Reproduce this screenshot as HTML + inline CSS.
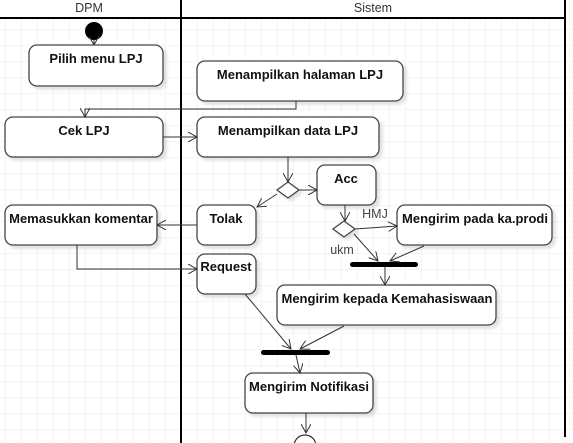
<!DOCTYPE html>
<html><head><style>
html,body{margin:0;padding:0;background:#fff;}
svg{display:block;}
text{font-family:"Liberation Sans",Arial,sans-serif;}
.b{font-weight:bold;font-size:13px;fill:#111;}
</style></head><body>
<svg width="573" height="443" viewBox="0 0 573 443" xmlns="http://www.w3.org/2000/svg">
<defs>
<pattern id="g" x="6" y="14" width="16" height="16" patternUnits="userSpaceOnUse">
<path d="M16 0V16M0 16H16" stroke="#ebebeb" stroke-width="1" fill="none"/>
</pattern>
<marker id="a" markerWidth="10" markerHeight="10" refX="9" refY="5" orient="auto" markerUnits="userSpaceOnUse">
<path d="M0 0L9 5L0 10" fill="none" stroke="#333" stroke-width="1"/>
</marker>
<filter id="s" x="-10%" y="-10%" width="130%" height="140%"><feDropShadow dx="3" dy="3" stdDeviation="1.5" flood-color="#000" flood-opacity="0.12"/></filter>
</defs>
<rect width="573" height="443" fill="#fff"/>
<rect x="0" y="18" width="573" height="425" fill="url(#g)"/>
<line x1="0" y1="18" x2="565" y2="18" stroke="#000" stroke-width="2"/>
<line x1="181" y1="0" x2="181" y2="443" stroke="#000" stroke-width="2"/>
<line x1="565" y1="0" x2="565" y2="437" stroke="#000" stroke-width="2"/>
<text x="89" y="12" text-anchor="middle" font-size="12.5" fill="#333">DPM</text>
<text x="373" y="12" text-anchor="middle" font-size="12.5" fill="#333">Sistem</text>
<circle cx="94" cy="31" r="9" fill="#000"/>
<line x1="94" y1="40" x2="94" y2="45" stroke="#333" marker-end="url(#a)"/>
<g fill="#fff" stroke="#444" stroke-width="1.3" filter="url(#s)">
<rect x="29" y="45" width="134" height="41" rx="8"/>
<rect x="197" y="61" width="206" height="40" rx="8"/>
<rect x="5" y="117" width="158" height="40" rx="8"/>
<rect x="197" y="117" width="182" height="40" rx="8"/>
<rect x="317" y="165" width="59" height="40" rx="8"/>
<rect x="197" y="205" width="59" height="40" rx="8"/>
<rect x="5" y="205" width="152" height="40" rx="8"/>
<rect x="197" y="254" width="59" height="40" rx="8"/>
<rect x="397" y="205" width="155" height="40" rx="8"/>
<rect x="277" y="285" width="219" height="40" rx="8"/>
<rect x="245" y="373" width="128" height="40" rx="8"/>
<path d="M288 182L299 190L288 198L277 190Z"/>
<path d="M344 221L355 229L344 237L333 229Z"/>
</g>
<g class="b" text-anchor="middle">
<text x="96" y="63">Pilih menu LPJ</text>
<text x="300" y="79">Menampilkan halaman LPJ</text>
<text x="84" y="135">Cek LPJ</text>
<text x="288" y="135">Menampilkan data LPJ</text>
<text x="346" y="183">Acc</text>
<text x="226" y="223">Tolak</text>
<text x="81" y="223">Memasukkan komentar</text>
<text x="226" y="271">Request</text>
<text x="475" y="223">Mengirim pada ka.prodi</text>
<text x="387" y="303">Mengirim kepada Kemahasiswaan</text>
<text x="309" y="391">Mengirim Notifikasi</text>
</g>
<text x="375" y="218" text-anchor="middle" font-size="12.5" fill="#444">HMJ</text>
<text x="342" y="254" text-anchor="middle" font-size="12.5" fill="#444">ukm</text>
<rect x="350" y="262" width="68" height="5" rx="2.5" fill="#000"/>
<rect x="261" y="350" width="69" height="5" rx="2.5" fill="#000"/>
<g fill="none" stroke="#333" stroke-width="1">
<path d="M296 101V109H85V117" marker-end="url(#a)"/>
<path d="M163 137H197" marker-end="url(#a)"/>
<path d="M288 157V182" marker-end="url(#a)"/>
<path d="M299 190H317" marker-end="url(#a)"/>
<path d="M277 194L257 207" marker-end="url(#a)"/>
<path d="M197 225H157" marker-end="url(#a)"/>
<path d="M77 245V269H197" marker-end="url(#a)"/>
<path d="M345 205V221" marker-end="url(#a)"/>
<path d="M355 229L397 226" marker-end="url(#a)"/>
<path d="M354 234L378 261" marker-end="url(#a)"/>
<path d="M424 246L390 261" marker-end="url(#a)"/>
<path d="M385 267V285" marker-end="url(#a)"/>
<path d="M344 326L300 349" marker-end="url(#a)"/>
<path d="M245 294L291 349" marker-end="url(#a)"/>
<path d="M296 355L300 373" marker-end="url(#a)"/>
<path d="M306 413V433" marker-end="url(#a)"/>
</g>
<circle cx="305" cy="446" r="11" fill="#fff" stroke="#333" stroke-width="1.2"/>
</svg>
</body></html>
